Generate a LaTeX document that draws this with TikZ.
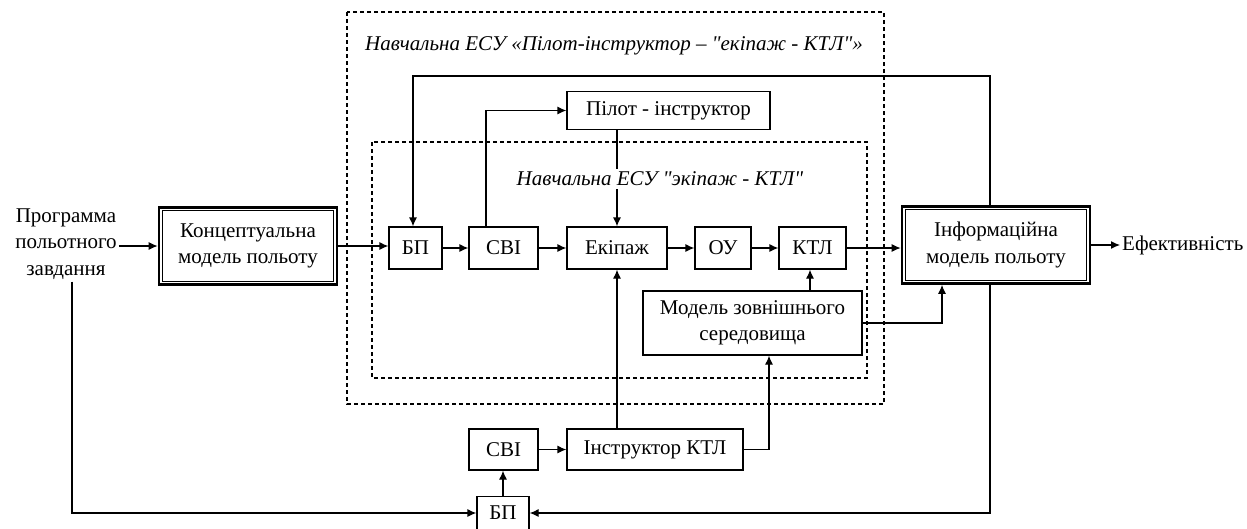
\documentclass[tikz,border=0pt]{standalone}
\usepackage{fontspec}
\setmainfont{Liberation Serif}[Ligatures=TeXOff]
\usetikzlibrary{arrows.meta}
\tikzset{
  lbl/.style={font=\fontsize{21}{26.5}\selectfont, align=center, inner sep=2pt},
  blk/.style={draw, line width=1.2pt, font=\fontsize{21}{26.5}\selectfont, align=center, inner sep=0pt, fill=white},
  dbl/.style={blk, line width=2.6pt},
  ttl/.style={font=\fontsize{21}{26.5}\selectfont\itshape, inner sep=3pt, fill=white},
  arr/.style={line width=1.2pt, -{Latex[length=9pt,width=8pt]}},
  dsh/.style={line width=1.1pt, dash pattern=on 4pt off 3pt},
}
\begin{document}
\begin{tikzpicture}[x=1pt,y=-1pt]
\useasboundingbox (0,0) rectangle (1247,528);
% dashed frames
\draw[dsh] (347,12) rectangle (884,404);
\draw[dsh] (372,142) rectangle (867,378);
% blocks
\node[lbl] (prog) at (66,244) {Программа\\польотного\\завдання};
\node[dbl, minimum width=178, minimum height=77] (concept) at (248,246) {Концептуальна\\модель польоту};
\node[dbl, minimum width=188, minimum height=77] (info) at (996,245) {Інформаційна\\модель польоту};
\node[lbl, anchor=west] (eff) at (1120,245) {Ефективність};
\node[blk, minimum width=203, minimum height=38] (pilot) at (668.5,110.5) {Пілот - інструктор};
\node[blk, minimum width=53, minimum height=42] (bp1) at (415.5,248) {БП};
\node[blk, minimum width=69, minimum height=42] (svi1) at (503.5,248) {СВІ};
\node[blk, minimum width=100, minimum height=42] (ekip) at (617,248) {Екіпаж};
\node[blk, minimum width=56, minimum height=42] (ou) at (723,248) {ОУ};
\node[blk, minimum width=67, minimum height=42] (ktl) at (812.5,248) {КТЛ};
\node[blk, minimum width=219, minimum height=64] (model) at (752.5,323) {Модель зовнішнього\\середовища};
\node[blk, minimum width=69, minimum height=41] (svi2) at (503.5,449.5) {СВІ};
\node[blk, minimum width=176, minimum height=41] (instr) at (655,449.5) {Інструктор КТЛ};
\node[blk, minimum width=52, minimum height=33] (bp2) at (503,513) {БП};
% inner rectangles of the double-framed blocks
\draw[line width=1pt] ([shift={(4.5,4.5)}]concept.north west) rectangle ([shift={(-4.5,-4.5)}]concept.south east);
\draw[line width=1pt] ([shift={(4.5,4.5)}]info.north west) rectangle ([shift={(-4.5,-4.5)}]info.south east);
% pilot -> crew (behind inner title)
\draw[arr] (pilot.south -| ekip.north) -- (ekip.north);
% titles
\node[ttl] (t1) at (614,46) {Навчальна ЕСУ «Пілот-інструктор – "екіпаж - КТЛ"»};
\node[ttl] (t2) at (660,179) {Навчальна ЕСУ "экіпаж - КТЛ"};
% connectors
\draw[arr] (prog.east |- concept.west) -- (concept.west);
\draw[arr] (concept.east) -- (concept.east -| bp1.west);
\draw[arr] (bp1) -- (svi1);
\draw[arr] (svi1) -- (ekip);
\draw[arr] (ekip) -- (ou);
\draw[arr] (ou) -- (ktl);
\draw[arr] (ktl.east) -- (ktl.east -| info.west);
\draw[arr] (info.east) -- (eff.west);
\draw[arr] ([xshift=-17.5]svi1.north) |- (pilot.west);
\coordinate (fb) at (990,76);
\draw[arr] ([xshift=-6]info.north) |- ([xshift=-2.5]bp1.north |- fb) -- ([xshift=-2.5]bp1.north);
\draw[arr] ([xshift=57.5]model.north) -- ([xshift=57.5]model.north |- ktl.south);
\draw[arr] (model.east) -| ([xshift=-54]info.south);
\draw[arr] (instr.north -| ekip.south) -- (ekip.south);
\draw[arr] (instr.east) -| ([xshift=16.5]model.south);
\draw[arr] (svi2) -- (instr);
\draw[arr] (bp2.north) -- (bp2.north |- svi2.south);
\draw[arr] ([xshift=6]prog.south) |- (bp2.west);
\draw[arr] ([xshift=-6]info.south) |- (bp2.east);
\end{tikzpicture}
\end{document}
